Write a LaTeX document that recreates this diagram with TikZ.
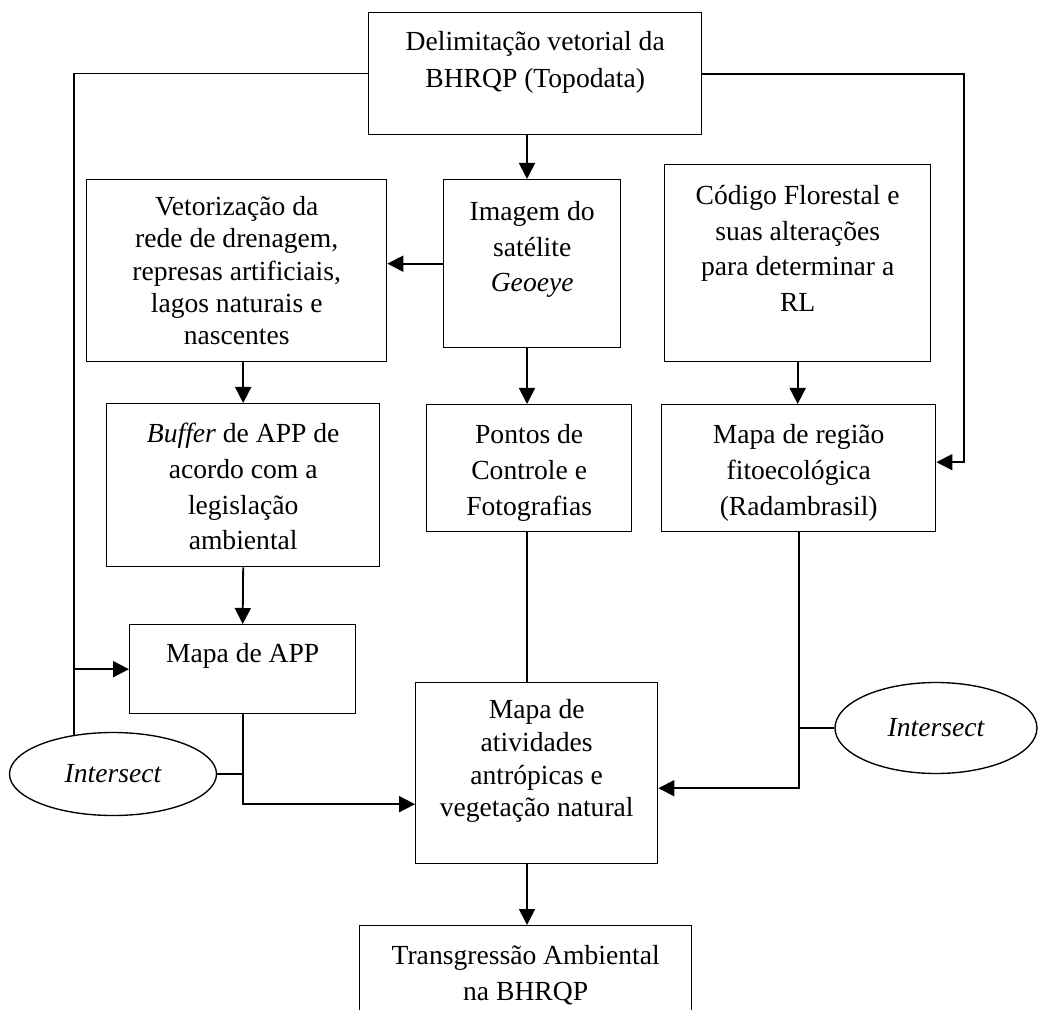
\documentclass[tikz,border=0pt]{standalone}
\usepackage{fontspec}
\setmainfont{Liberation Serif}
\usetikzlibrary{arrows.meta,shapes.geometric}

% 1 px of the drawing = 0.5pt
\newlength{\px}
\setlength{\px}{0.5pt}
% box text: width, height, first baseline, line distance (px), lines
\newcommand{\bloco}[5]{\parbox[c][#2\px][t]{#1\px}{\centering\fontsize{13.8}{18}\selectfont\setlength{\baselineskip}{#4\px}\rule{0pt}{#3\px}#5\par}}

\begin{document}
\begin{tikzpicture}[x=0.5pt,y=-0.5pt,
    caixa/.style={draw, line width=0.68pt, inner sep=0pt, anchor=north west},
    elipse/.style={draw, ellipse, line width=0.68pt, inner sep=0pt, font=\fontsize{13.8}{14}\selectfont\itshape},
    seta/.style={line width=0.9pt, -{Triangle[length=8pt,width=8pt]}},
    linha/.style={line width=0.68pt}]
    \clip (0,0) rectangle (1038,1010);

    % Boxes
    \node[caixa] (topo) at (368,12) {\bloco{333}{122}{38}{37}{Delimitação vetorial da\\BHRQP (Topodata)}};
    \node[caixa] (vetor) at (86,179) {\bloco{300}{182}{36}{32.3}{Vetorização da\\rede de drenagem,\\represas artificiais,\\lagos naturais e\\nascentes}};
    \node[caixa] (imagem) at (443,179) {\bloco{177}{168}{41}{35.5}{Imagem do\\satélite\\\textit{Geoeye}}};
    \node[caixa] (codigo) at (664,164) {\bloco{266}{197}{40}{35.5}{Código Florestal e\\suas alterações\\para determinar a\\RL}};
    \node[caixa] (buffer) at (106,403) {\bloco{273}{163}{39}{35.7}{\textit{Buffer} de APP de\\acordo com a\\legislação\\ambiental}};
    \node[caixa] (pontos) at (426,404) {\bloco{205}{127}{39}{36}{Pontos de\\Controle e\\Fotografias}};
    \node[caixa] (regiao) at (661,404) {\bloco{274}{127}{39}{36}{Mapa de região\\fitoecológica\\(Radambrasil)}};
    \node[caixa] (mapaapp) at (129,624) {\bloco{226}{89}{38}{36}{Mapa de APP}};
    \node[caixa] (atividades) at (415,682) {\bloco{242}{181}{36}{32.7}{Mapa de\\atividades\\antrópicas e\\vegetação natural}};
    \node[caixa] (transgressao) at (359,925) {\bloco{332}{135}{39}{36}{Transgressão Ambiental\\na BHRQP}};

    % Intersect ellipses
    \node[elipse, minimum width=103.5pt, minimum height=41.5pt] (intesq) at (113,774) {Intersect};
    \node[elipse, minimum width=101pt, minimum height=45.5pt] (intdir) at (936,728) {Intersect};

    % Helper coordinates
    \coordinate (eixo) at (527,0);
    \coordinate (esq) at (74,0);
    \coordinate (dir) at (964,0);
    \coordinate (regiaoin) at ([yshift=3pt]regiao.east);
    \coordinate (ativin1) at ([yshift=-15.5pt]atividades.west);
    \coordinate (ativin2) at ([yshift=-7.5pt]atividades.east);

    % Connectors from the top box
    \draw[linha] (topo.west) -| (esq |- intesq.135);
    \draw[seta] (esq |- mapaapp.west) -- (mapaapp.west);
    \draw[seta] (topo.east) -| (dir |- regiaoin) -- (regiaoin);
    \draw[seta] (eixo |- topo.south) -- (eixo |- imagem.north);

    % Middle rows
    \draw[seta] (imagem.west) -- (imagem.west -| vetor.east);
    \draw[seta] (buffer.north |- vetor.south) -- (buffer.north);
    \draw[seta] (eixo |- imagem.south) -- (eixo |- pontos.north);
    \draw[seta] (codigo.south) -- (codigo.south |- regiao.north);
    \draw[seta] (buffer.south) -- (mapaapp.north);

    % Into the map of activities
    \draw[linha] (eixo |- pontos.south) -- (eixo |- atividades.north);
    \draw[seta] (mapaapp.south) |- (ativin1);
    \draw[linha] (intesq.east) -- (intesq.east -| mapaapp.south);
    \draw[seta] (regiao.south) |- (ativin2);
    \draw[linha] (intdir.west) -- (intdir.west -| regiao.south);

    % Result
    \draw[seta] (eixo |- atividades.south) -- (eixo |- transgressao.north);
\end{tikzpicture}
\end{document}
